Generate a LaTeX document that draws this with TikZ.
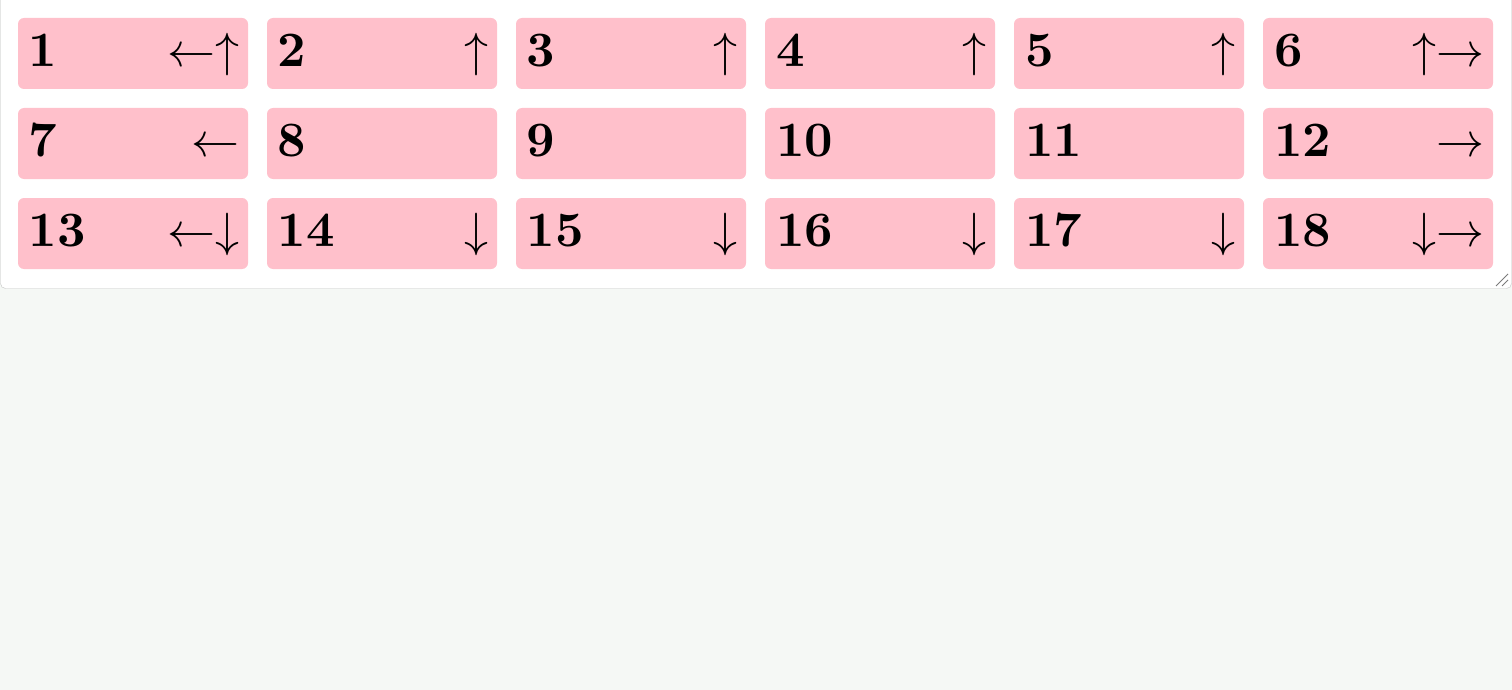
\documentclass[tikz,border=0pt]{standalone}
\usepackage{tikz}
\usetikzlibrary{positioning}
\definecolor{pagebg}{HTML}{F5F8F5}
\definecolor{cellpink}{HTML}{FFC0CB}
\definecolor{panelline}{HTML}{C4C4C4}
\definecolor{gripline}{HTML}{7A7A7A}
\begin{document}
\begin{tikzpicture}
		[x=1pt, y=1pt,
		cell/.style={fill=cellpink, rounded corners=6pt, minimum width=230pt, minimum height=71pt, inner sep=0pt, outer sep=0pt},
		num/.style={anchor=base west, inner sep=0pt, scale=4.95, font=\bfseries},
		arr/.style={anchor=base east, inner sep=0pt, scale=4.8}]
		\useasboundingbox (0,0) rectangle (1512,-690);
		\fill[pagebg] (0,0) rectangle (1512,-690);
		\draw[panelline, fill=white, rounded corners=5pt] (0.5,6) rectangle (1511.5,-288.5);
		\draw[gripline, line width=0.8pt] (1496,-286) -- (1508,-274);
		\draw[gripline, line width=0.8pt] (1502,-286) -- (1508,-280);
		% cells
		\coordinate (a) at (133,-53.5);
		\node[cell] (c1) at (a) {};
		\node[cell, right=19pt of c1] (c2) {};
		\node[cell, right=19pt of c2] (c3) {};
		\node[cell, right=19pt of c3] (c4) {};
		\node[cell, right=19pt of c4] (c5) {};
		\node[cell, right=19pt of c5] (c6) {};
		\node[cell, below=19pt of c1] (c7) {};
		\node[cell, right=19pt of c7] (c8) {};
		\node[cell, right=19pt of c8] (c9) {};
		\node[cell, right=19pt of c9] (c10) {};
		\node[cell, right=19pt of c10] (c11) {};
		\node[cell, right=19pt of c11] (c12) {};
		\node[cell, below=19pt of c7] (c13) {};
		\node[cell, right=19pt of c13] (c14) {};
		\node[cell, right=19pt of c14] (c15) {};
		\node[cell, right=19pt of c15] (c16) {};
		\node[cell, right=19pt of c16] (c17) {};
		\node[cell, right=19pt of c17] (c18) {};
		% numbers
		\node[num] (n1) at ([xshift=10pt, yshift=-13pt]c1.west) {1};
		\node[num] (n2) at ([xshift=10pt, yshift=-13pt]c2.west) {2};
		\node[num] (n3) at ([xshift=10pt, yshift=-13pt]c3.west) {3};
		\node[num] (n4) at ([xshift=10pt, yshift=-13pt]c4.west) {4};
		\node[num] (n5) at ([xshift=10pt, yshift=-13pt]c5.west) {5};
		\node[num] (n6) at ([xshift=10pt, yshift=-13pt]c6.west) {6};
		\node[num] (n7) at ([xshift=10pt, yshift=-13pt]c7.west) {7};
		\node[num] (n8) at ([xshift=10pt, yshift=-13pt]c8.west) {8};
		\node[num] (n9) at ([xshift=10pt, yshift=-13pt]c9.west) {9};
		\node[num] (n10) at ([xshift=10pt, yshift=-13pt]c10.west) {10};
		\node[num] (n11) at ([xshift=10pt, yshift=-13pt]c11.west) {11};
		\node[num] (n12) at ([xshift=10pt, yshift=-13pt]c12.west) {12};
		\node[num] (n13) at ([xshift=10pt, yshift=-13pt]c13.west) {13};
		\node[num] (n14) at ([xshift=10pt, yshift=-13pt]c14.west) {14};
		\node[num] (n15) at ([xshift=10pt, yshift=-13pt]c15.west) {15};
		\node[num] (n16) at ([xshift=10pt, yshift=-13pt]c16.west) {16};
		\node[num] (n17) at ([xshift=10pt, yshift=-13pt]c17.west) {17};
		\node[num] (n18) at ([xshift=10pt, yshift=-13pt]c18.west) {18};
		% arrows
		\node[arr] (d1) at ([xshift=-8pt, yshift=-13pt]c1.east) {$\leftarrow\uparrow$};
		\node[arr] (d2) at ([xshift=-8pt, yshift=-13pt]c2.east) {$\uparrow$};
		\node[arr] (d3) at ([xshift=-8pt, yshift=-13pt]c3.east) {$\uparrow$};
		\node[arr] (d4) at ([xshift=-8pt, yshift=-13pt]c4.east) {$\uparrow$};
		\node[arr] (d5) at ([xshift=-8pt, yshift=-13pt]c5.east) {$\uparrow$};
		\node[arr] (d6) at ([xshift=-8pt, yshift=-13pt]c6.east) {$\uparrow\rightarrow$};
		\node[arr] (d7) at ([xshift=-8pt, yshift=-13pt]c7.east) {$\leftarrow$};
		\node[arr] (d12) at ([xshift=-8pt, yshift=-13pt]c12.east) {$\rightarrow$};
		\node[arr] (d13) at ([xshift=-8pt, yshift=-13pt]c13.east) {$\leftarrow\downarrow$};
		\node[arr] (d14) at ([xshift=-8pt, yshift=-13pt]c14.east) {$\downarrow$};
		\node[arr] (d15) at ([xshift=-8pt, yshift=-13pt]c15.east) {$\downarrow$};
		\node[arr] (d16) at ([xshift=-8pt, yshift=-13pt]c16.east) {$\downarrow$};
		\node[arr] (d17) at ([xshift=-8pt, yshift=-13pt]c17.east) {$\downarrow$};
		\node[arr] (d18) at ([xshift=-8pt, yshift=-13pt]c18.east) {$\downarrow\rightarrow$};
	\end{tikzpicture}
\end{document}
